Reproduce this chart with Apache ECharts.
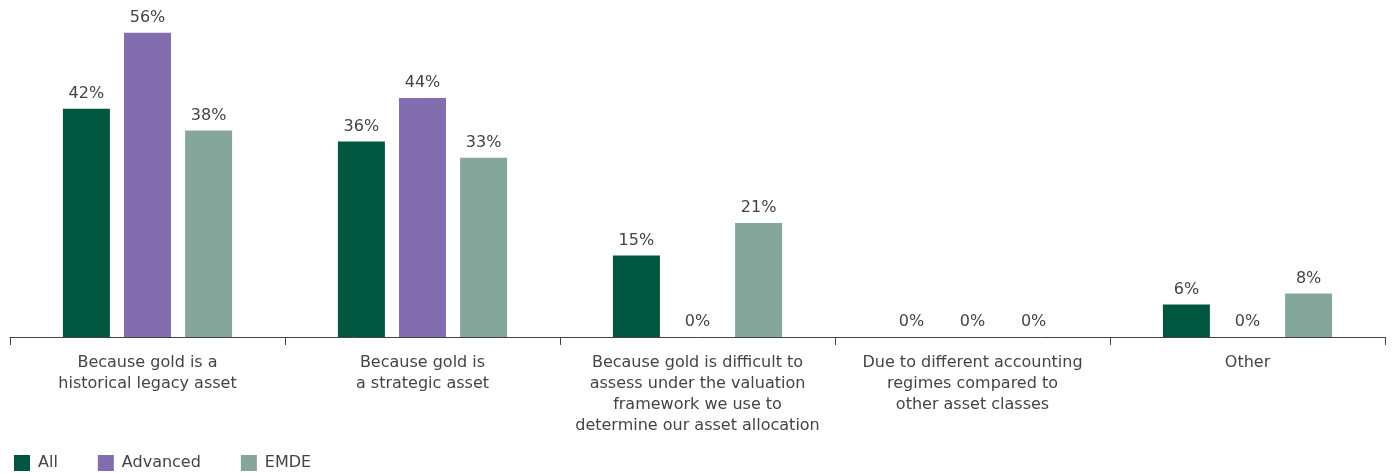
<!DOCTYPE html>
<html>
<head>
<meta charset="utf-8">
<script src="https://cdn.jsdelivr.net/npm/echarts@6/dist/echarts.min.js"></script>
<style>
  html, body { margin: 0; padding: 0; background: #fff; }
  #chart { width: 1392px; height: 473px; }
</style>
</head>
<body>
<div id="chart"></div>
<script>
const categories = [
  'Because gold is a\nhistorical legacy asset',
  'Because gold is\na strategic asset',
  'Because gold is difficult to\nassess under the valuation\nframework we use to\ndetermine our asset allocation',
  'Due to different accounting\nregimes compared to\nother asset classes',
  'Other'
];
const allValues = [42, 36, 15, 0, 6];
const advancedValues = [56, 44, 0, 0, 0];
const emdeValues = [38, 33, 21, 0, 8];

const textColor = '#444444';
const fontFamily = 'DejaVu Sans, Liberation Sans, Arial, sans-serif';

const labelStyle = {
  show: true,
  position: 'top',
  distance: 7,
  formatter: '{c}%',
  color: textColor,
  fontSize: 16,
  fontFamily: fontFamily
};

function makeSeries(name, data, color) {
  return {
    name: name,
    type: 'bar',
    data: data,
    barWidth: 47,
    barGap: '30%',
    itemStyle: { color: color },
    label: labelStyle,
    emphasis: { disabled: true }
  };
}

const chart = echarts.init(document.getElementById('chart'));
chart.setOption({
  animation: false,
  grid: { left: 10, right: 7, top: 11, bottom: 136, containLabel: false },
  legend: {
    left: 9,
    top: 450,
    icon: 'rect',
    itemWidth: 16,
    itemHeight: 16,
    itemGap: 40,
    textStyle: { color: textColor, fontSize: 16, fontFamily: fontFamily, padding: [0, 0, 0, 3] },
    data: ['All', 'Advanced', 'EMDE']
  },
  xAxis: {
    type: 'category',
    data: categories,
    axisLine: { lineStyle: { color: '#444', width: 1 } },
    axisTick: { show: true, length: 8, alignWithLabel: false, lineStyle: { color: '#444' } },
    axisLabel: {
      color: textColor,
      fontSize: 16,
      lineHeight: 21,
      fontFamily: fontFamily,
      margin: 15,
      interval: 0
    }
  },
  yAxis: {
    type: 'value',
    min: 0,
    max: 60,
    show: false,
    splitLine: { show: false }
  },
  series: [
    makeSeries('All', allValues, '#00563f'),
    makeSeries('Advanced', advancedValues, '#826eaf'),
    makeSeries('EMDE', emdeValues, '#85a69a')
  ]
});
</script>
</body>
</html>
